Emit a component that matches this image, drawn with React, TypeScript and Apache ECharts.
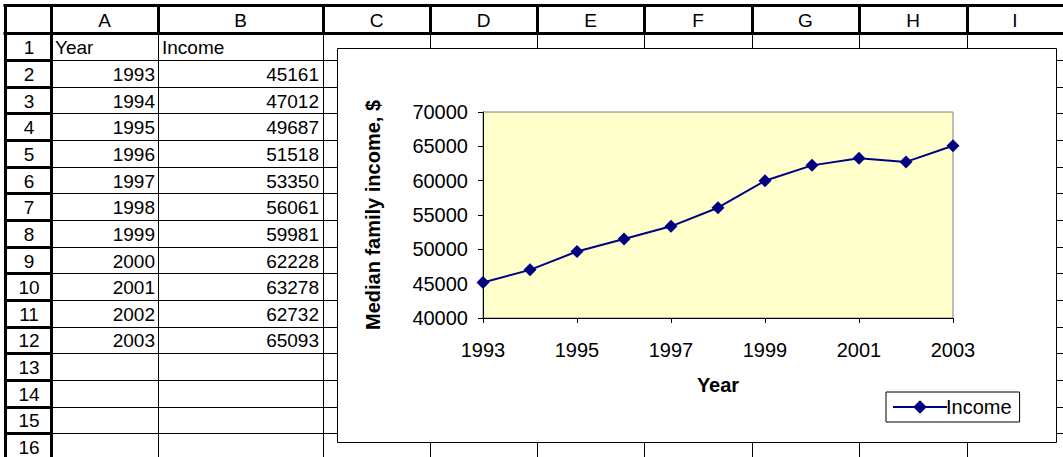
import React, { useEffect, useRef } from "react";
import * as echarts from "echarts";

// ---- data ----
const years: string[] = ["1993", "1994", "1995", "1996", "1997", "1998", "1999", "2000", "2001", "2002", "2003"];
const incomes: number[] = [45161, 47012, 49687, 51518, 53350, 56061, 59981, 62228, 63278, 62732, 65093];
const columnLetters: string[] = ["A", "B", "C", "D", "E", "F", "G", "H", "I"];
const headerA = "Year";
const headerB = "Income";
const rowCount = 16;
const seriesName = "Income";
const yAxisTitle = "Median family income, $";
const xAxisTitle = "Year";

// ---- layout (sheet) ----
const COL_EDGES = [5, 51, 158, 323, 430, 537, 644, 752, 859, 967, 1063];
const HEAD_TOP = 5.5;
const HEAD_BOTTOM = 33.5;
const ROW_H = 26.65;
const W = 1063;
const H = 457;
const FONT = "'Liberation Sans', Arial, sans-serif";
const FS = 19;
const CFS = 20;

function buildSheet(): any[] {
  const els: any[] = [];
  const rowY = (i: number) => HEAD_BOTTOM + i * ROW_H;
  for (let i = 1; i <= rowCount; i++) {
    const y = Math.round(rowY(i)) + 0.5;
    els.push({ type: "line", z: 0, shape: { x1: COL_EDGES[1], y1: y, x2: W, y2: y }, style: { stroke: "#000", lineWidth: 1 } });
  }
  for (let c = 2; c < COL_EDGES.length - 1; c++) {
    const x = COL_EDGES[c] + 0.5;
    els.push({ type: "line", z: 0, shape: { x1: x, y1: HEAD_BOTTOM, x2: x, y2: H }, style: { stroke: "#000", lineWidth: 1 } });
  }
  for (let i = 1; i <= rowCount; i++) {
    const y = Math.round(rowY(i)) + 0.5;
    els.push({ type: "line", z: 0, shape: { x1: COL_EDGES[0], y1: y, x2: COL_EDGES[1], y2: y }, style: { stroke: "#000", lineWidth: 3 } });
  }
  els.push({ type: "line", z: 0, shape: { x1: COL_EDGES[0] - 1.5, y1: HEAD_TOP, x2: W, y2: HEAD_TOP }, style: { stroke: "#000", lineWidth: 3 } });
  els.push({ type: "line", z: 0, shape: { x1: COL_EDGES[0] - 1.5, y1: HEAD_BOTTOM, x2: W, y2: HEAD_BOTTOM }, style: { stroke: "#000", lineWidth: 3 } });
  for (let c = 0; c < COL_EDGES.length - 1; c++) {
    const x = COL_EDGES[c] + 0.5;
    els.push({ type: "line", z: 0, shape: { x1: x, y1: HEAD_TOP, x2: x, y2: HEAD_BOTTOM }, style: { stroke: "#000", lineWidth: 3 } });
  }
  els.push({ type: "line", z: 0, shape: { x1: COL_EDGES[0] + 0.5, y1: HEAD_BOTTOM, x2: COL_EDGES[0] + 0.5, y2: H }, style: { stroke: "#000", lineWidth: 3 } });
  els.push({ type: "line", z: 0, shape: { x1: COL_EDGES[1] + 0.5, y1: HEAD_BOTTOM, x2: COL_EDGES[1] + 0.5, y2: H }, style: { stroke: "#000", lineWidth: 3 } });
  columnLetters.forEach((l, c) => {
    els.push({
      type: "text", z: 0,
      style: { text: l, x: (COL_EDGES[c + 1] + COL_EDGES[c + 2]) / 2, y: (HEAD_TOP + HEAD_BOTTOM) / 2 + 1, align: "center", verticalAlign: "middle", fontSize: FS, fontFamily: FONT, fill: "#000" },
    });
  });
  for (let i = 0; i < rowCount; i++) {
    els.push({
      type: "text", z: 0,
      style: { text: String(i + 1), x: (COL_EDGES[0] + COL_EDGES[1]) / 2 + 1, y: rowY(i) + ROW_H / 2 + 1, align: "center", verticalAlign: "middle", fontSize: FS, fontFamily: FONT, fill: "#000" },
    });
  }
  const cellY = (i: number) => rowY(i) + ROW_H / 2 + 1;
  els.push({ type: "text", z: 0, style: { text: headerA, x: COL_EDGES[1] + 4, y: cellY(0), align: "left", verticalAlign: "middle", fontSize: FS, fontFamily: FONT, fill: "#000" } });
  els.push({ type: "text", z: 0, style: { text: headerB, x: COL_EDGES[2] + 4, y: cellY(0), align: "left", verticalAlign: "middle", fontSize: FS, fontFamily: FONT, fill: "#000" } });
  years.forEach((yr, i) => {
    els.push({ type: "text", z: 0, style: { text: yr, x: COL_EDGES[2] - 3, y: cellY(i + 1), align: "right", verticalAlign: "middle", fontSize: FS, fontFamily: FONT, fill: "#000" } });
    els.push({ type: "text", z: 0, style: { text: String(incomes[i]), x: COL_EDGES[3] - 4, y: cellY(i + 1), align: "right", verticalAlign: "middle", fontSize: FS, fontFamily: FONT, fill: "#000" } });
  });
  els.push({ type: "rect", z: 1, shape: { x: 337.5, y: 48.5, width: 719, height: 394 }, style: { fill: "#fff", stroke: "#000", lineWidth: 1 } });
  return els;
}

export default function App() {
  const ref = useRef<HTMLDivElement>(null);
  useEffect(() => {
    if (!ref.current) return;
    const chart = echarts.init(ref.current, undefined, { renderer: "svg" });
    const option: any = {
      animation: false,
      backgroundColor: "#fff",
      textStyle: { fontFamily: FONT },
      graphic: buildSheet(),
      grid: {
        left: 483, top: 112, width: 470, height: 206,
        show: true, backgroundColor: "#FFFFCC", borderColor: "#808080", borderWidth: 1, z: 3,
      },
      xAxis: {
        type: "category", data: years, boundaryGap: false, z: 4,
        name: xAxisTitle, nameLocation: "middle", nameGap: 57,
        nameTextStyle: { fontSize: 20, fontWeight: "bold", color: "#000", fontFamily: FONT },
        axisLine: { lineStyle: { color: "#000", width: 1 } },
        axisTick: { show: true, interval: 1, length: 5, lineStyle: { color: "#000" } },
        axisLabel: { interval: 1, fontSize: CFS, color: "#000", margin: 22, fontFamily: FONT },
        splitLine: { show: false },
      },
      yAxis: {
        type: "value", min: 40000, max: 70000, interval: 5000, z: 4,
        name: yAxisTitle, nameLocation: "middle", nameGap: 100, nameRotate: 90,
        nameTextStyle: { fontSize: 20, fontWeight: "bold", color: "#000", fontFamily: FONT },
        axisLine: { show: true, lineStyle: { color: "#000", width: 1 } },
        axisTick: { show: true, length: 5, lineStyle: { color: "#000" } },
        axisLabel: { fontSize: CFS, color: "#000", margin: 15, fontFamily: FONT, formatter: (v: number) => String(v) },
        splitLine: { show: false },
      },
      legend: {
        left: 886, top: 392, z: 6,
        padding: [5, 8, 5, 6],
        borderColor: "#000", borderWidth: 1, backgroundColor: "#fff",
        itemWidth: 54, itemHeight: 17, itemGap: 4,
        textStyle: { fontSize: CFS, color: "#000", fontFamily: FONT, padding: [0, 0, 0, -6] },
        data: [seriesName],
      },
      series: [
        {
          name: seriesName, type: "line", data: incomes, z: 5,
          symbol: "diamond", symbolSize: 13,
          lineStyle: { color: "#000080", width: 2 },
          itemStyle: { color: "#000080" },
        },
      ],
    };
    chart.setOption(option);
    return () => chart.dispose();
  }, []);
  return <div ref={ref} style={{ position: "absolute", left: 0, top: 0, width: W, height: H }} />;
}
